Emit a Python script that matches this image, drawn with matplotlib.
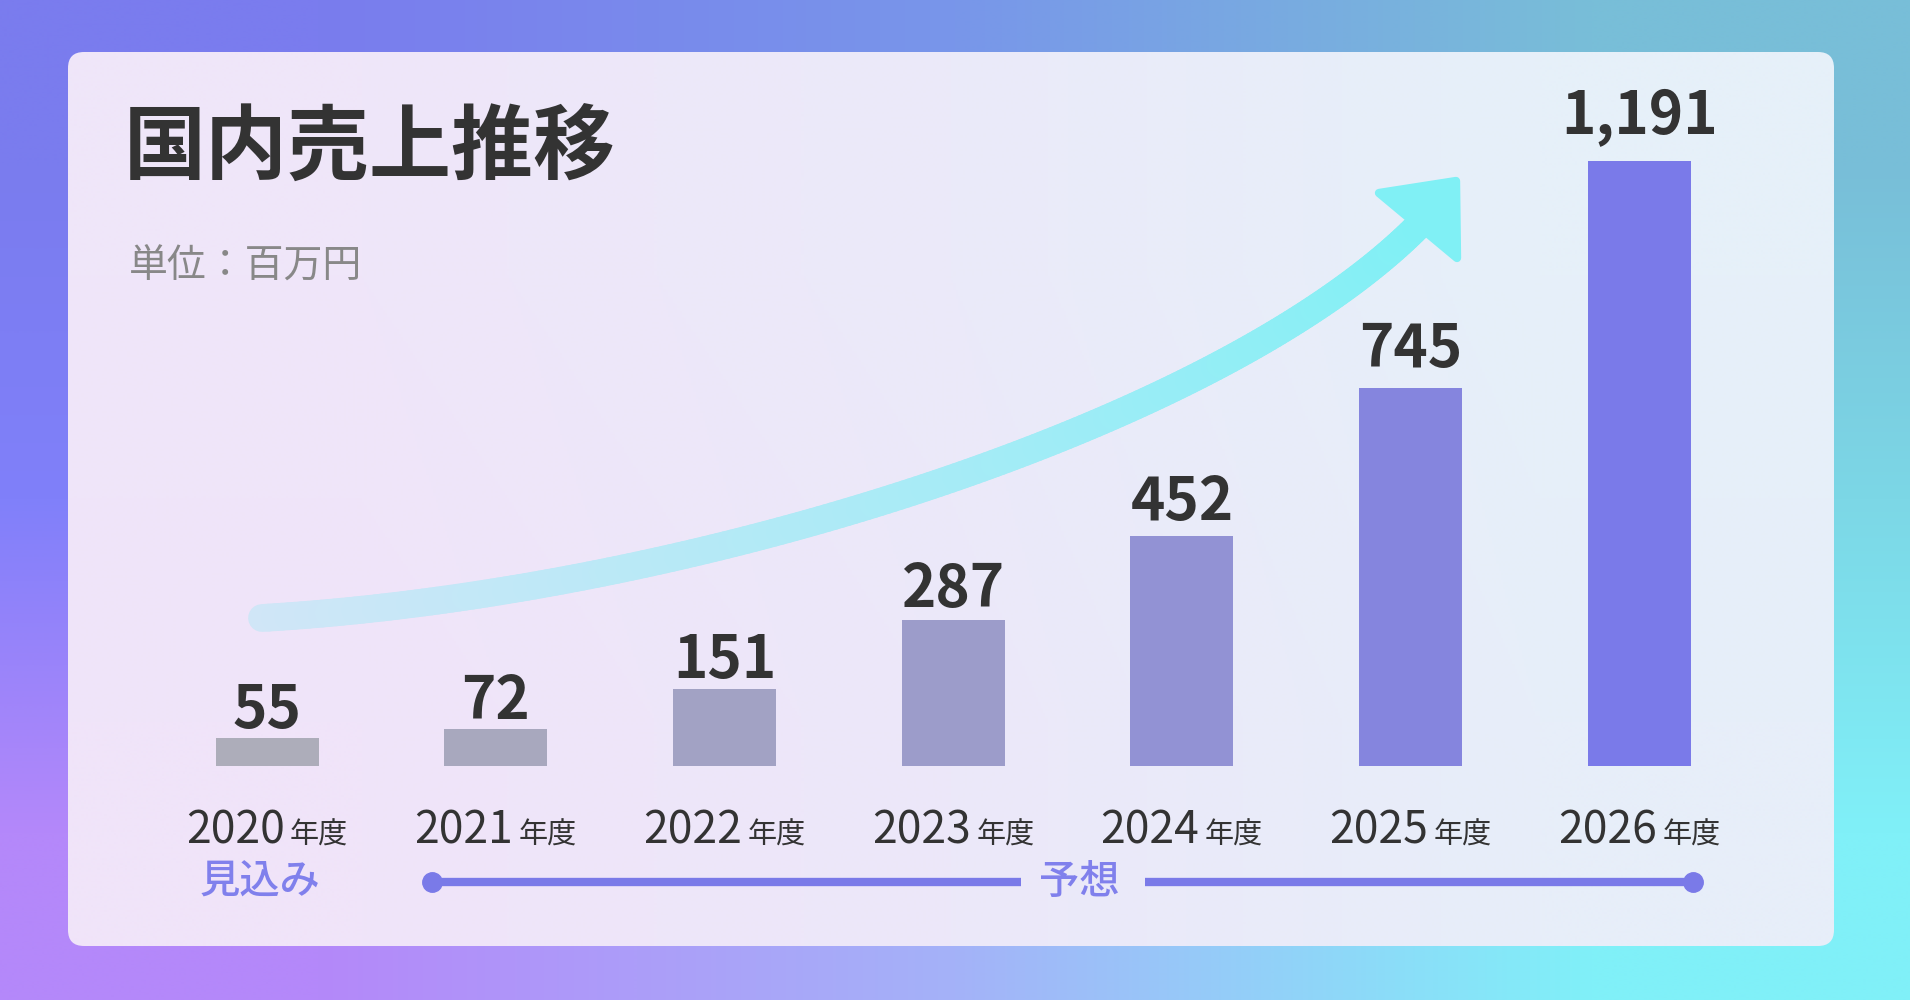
import numpy as np
import matplotlib
matplotlib.use("Agg")
import matplotlib.pyplot as plt
from matplotlib.patches import FancyBboxPatch, Polygon
from matplotlib.collections import LineCollection
from matplotlib.offsetbox import TextArea, HPacker, AnnotationBbox

plt.rcParams['font.family'] = ['Noto Sans CJK JP', 'DejaVu Sans']

# data
years = ['2020', '2021', '2022', '2023', '2024', '2025', '2026']
year_suffix = '年度'
sales = [55, 72, 151, 287, 452, 745, 1191]
bar_colors = ['#adadba', '#a8a8be', '#a2a2c4', '#9c9cca', '#9292d4', '#8585de', '#7a7ae9']
title = '国内売上推移'
unit_label = '単位：百万円'
estimate_label = '見込み'
forecast_label = '予想'

W, H = 1910, 1000
fig = plt.figure(figsize=(W / 100, H / 100), dpi=100)

# background, pixel coords (y down)
bg = fig.add_axes([0, 0, 1, 1])
bg.set_xlim(0, W)
bg.set_ylim(H, 0)
bg.axis('off')

grid = np.array([
    [(122, 124, 238), (120, 150, 234), (120, 190, 216)],
    [(128, 128, 250), (142, 165, 246), (124, 215, 230)],
    [(180, 136, 250), (164, 178, 248), (128, 240, 248)],
]) / 255.0
bg.imshow(grid, extent=(0, W, H, 0), interpolation='bilinear', aspect='auto', zorder=0)

panel = FancyBboxPatch((68, 52), 1766, 894, boxstyle='round,pad=0,rounding_size=16',
                       fc='none', ec='none', transform=bg.transData, zorder=1)
bg.add_patch(panel)
pgrid = np.array([
    [(239, 230, 249), (235, 234, 249), (230, 240, 249)],
    [(240, 228, 249), (236, 232, 249), (231, 238, 249)],
]) / 255.0
pim = bg.imshow(pgrid, extent=(68, 1834, 946, 52), interpolation='bilinear', aspect='auto', zorder=1)
pim.set_clip_path(panel)

# trend arrow
P = np.array([(262, 618), (700, 592), (1230, 420), (1422, 222)], dtype=float)
t = np.linspace(0, 1, 200)[:, None]
curve = ((1 - t) ** 3 * P[0] + 3 * t * (1 - t) ** 2 * P[1]
         + 3 * t ** 2 * (1 - t) * P[2] + t ** 3 * P[3])
segs = np.stack([curve[:-1], curve[1:]], axis=1)
c0 = np.array([208, 230, 247]) / 255
c1 = np.array([128, 240, 245]) / 255
tt = np.linspace(0, 1, len(segs))[:, None]
cols = c0 * (1 - tt) + c1 * tt
bg.add_collection(LineCollection(segs, colors=cols, linewidths=20, capstyle='round', zorder=2))
bg.add_patch(Polygon([(1379, 193), (1456, 181), (1457, 258)], closed=True,
                     fc='#80f0f5', ec='#80f0f5', lw=6, joinstyle='round', zorder=3))

bg.text(124, 150, title, ha='left', va='center', fontsize=59, weight='bold', color='#333333', zorder=4)
bg.text(129, 267, unit_label, ha='left', va='center', fontsize=28, color='#888888', zorder=4)

# chart
ax = fig.add_axes([152.7 / W, 0.234, 1601 / W, 0.605])
ax.patch.set_visible(False)
ax.set_xlim(-0.5, 6.5)
ax.set_ylim(0, 1191)
ax.axis('off')

x = np.arange(len(years))
ax.bar(x, sales, width=0.45, color=bar_colors, zorder=3)

for i, v in enumerate(sales):
    ax.annotate(f'{v:,}', (i, v), xytext=(0, 9 + 0.0154 * v), textcoords='offset pixels',
                ha='center', va='baseline', fontsize=42, weight='bold', color='#333333',
                annotation_clip=False)

xt = ax.get_xaxis_transform()
for i, yr in enumerate(years):
    box = HPacker(children=[TextArea(yr, textprops=dict(fontsize=32, color='#333333')),
                            TextArea(year_suffix, textprops=dict(fontsize=21, color='#333333'))],
                  align='baseline', pad=0, sep=4)
    ab = AnnotationBbox(box, (i, -0.106), xycoords=xt, frameon=False,
                        box_alignment=(0.5, 0.5), annotation_clip=False)
    ax.add_artist(ab)

tl_y = -0.192
tl_col = '#7a7ae8'
ax.plot([0.72, 3.297], [tl_y, tl_y], transform=xt, color=tl_col, lw=6, clip_on=False, solid_capstyle='butt')
ax.plot([3.839, 6.235], [tl_y, tl_y], transform=xt, color=tl_col, lw=6, clip_on=False, solid_capstyle='butt')
ax.plot([0.72, 6.235], [tl_y, tl_y], 'o', transform=xt, color=tl_col, ms=14, clip_on=False)
ax.text(-0.03, tl_y, estimate_label, transform=xt, ha='center', va='center',
        fontsize=29, weight='medium', color='#8080ec')
ax.text(3.55, tl_y, forecast_label, transform=xt, ha='center', va='center',
        fontsize=29, weight='medium', color='#8080ec')

fig.savefig('out.png', dpi=100)
